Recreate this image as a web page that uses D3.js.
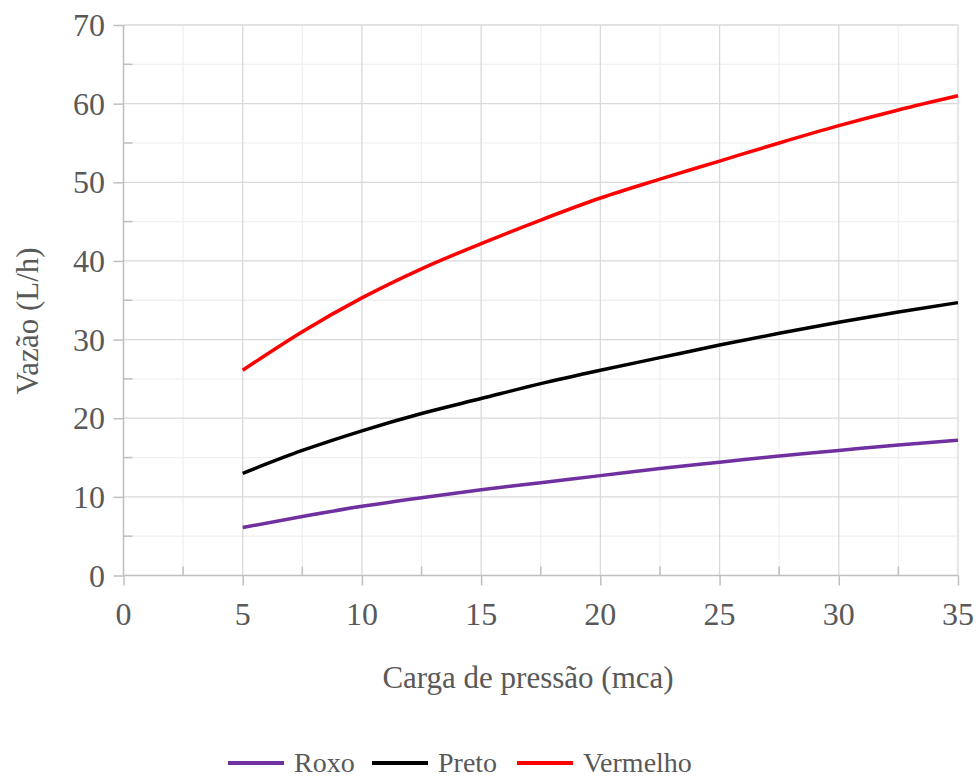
<!DOCTYPE html>
<html><head><meta charset="utf-8">
<script src="https://cdn.jsdelivr.net/npm/d3@7"></script>
<style>body{margin:0;background:#fff}text{font-family:"Liberation Serif","Times New Roman",serif;fill:#595959}</style>
</head><body><svg id="c" width="976" height="778"></svg>
<script>
const pressure = [5, 7.5, 10, 12.5, 15, 17.5, 20, 22.5, 25, 27.5, 30, 32.5, 35];
const roxo     = [6.1, 7.5, 8.8, 9.9, 10.9, 11.8, 12.7, 13.6, 14.4, 15.2, 15.9, 16.6, 17.2];
const preto    = [13.0, 15.9, 18.4, 20.6, 22.5, 24.4, 26.1, 27.7, 29.3, 30.8, 32.2, 33.5, 34.7];
const vermelho = [26.1, 31.0, 35.3, 39.0, 42.2, 45.2, 48.0, 50.4, 52.7, 55.0, 57.2, 59.2, 61.0];
const seriesNames = ["Roxo", "Preto", "Vermelho"];
const seriesColors = ["#7030a0", "#000000", "#ff0000"];
const xTicks = [0, 5, 10, 15, 20, 25, 30, 35];
const yTicks = [0, 10, 20, 30, 40, 50, 60, 70];
const xLabel = "Carga de pressão (mca)";
const yLabel = "Vazão (L/h)";

const svg = d3.select("#c");
const L = 123.5, R = 958, T = 25, B = 575.5;
const x = d3.scaleLinear().domain([0, 35]).range([L, R]);
const y = d3.scaleLinear().domain([0, 70]).range([B, T]);

const g = svg.append("g");
const xMinor = d3.range(2.5, 35, 5);
const yMinor = d3.range(5, 70, 10);
g.selectAll(".xm").data(xMinor).enter().append("line")
  .attr("x1", d => x(d)).attr("x2", d => x(d)).attr("y1", T).attr("y2", B)
  .attr("stroke", "#f0f0f0").attr("stroke-width", 1.3);
g.selectAll(".ym").data(yMinor).enter().append("line")
  .attr("x1", L).attr("x2", R).attr("y1", d => y(d)).attr("y2", d => y(d))
  .attr("stroke", "#f0f0f0").attr("stroke-width", 1.3);
g.selectAll(".xg").data(xTicks.slice(1)).enter().append("line")
  .attr("x1", d => x(d)).attr("x2", d => x(d)).attr("y1", T).attr("y2", B)
  .attr("stroke", "#d9d9d9").attr("stroke-width", 1.3);
g.selectAll(".yg").data(yTicks.slice(1)).enter().append("line")
  .attr("x1", L).attr("x2", R).attr("y1", d => y(d)).attr("y2", d => y(d))
  .attr("stroke", "#d9d9d9").attr("stroke-width", 1.3);

g.selectAll(".xmt").data(xMinor).enter().append("line")
  .attr("x1", d => x(d)).attr("x2", d => x(d)).attr("y1", B - 9).attr("y2", B)
  .attr("stroke", "#bfbfbf").attr("stroke-width", 1.5);
g.selectAll(".ymt").data(yMinor).enter().append("line")
  .attr("x1", L).attr("x2", L + 9).attr("y1", d => y(d)).attr("y2", d => y(d))
  .attr("stroke", "#bfbfbf").attr("stroke-width", 1.5);

const xAxis = d3.axisBottom(x).tickValues(xTicks).tickSize(10).tickFormat("");
const yAxis = d3.axisLeft(y).tickValues(yTicks).tickSize(10).tickFormat("");
const gx = svg.append("g").attr("transform", `translate(0,${B})`).call(xAxis);
const gy = svg.append("g").attr("transform", `translate(${L},0)`).call(yAxis);
[gx, gy].forEach(a => {
  a.select(".domain").attr("stroke", "#bfbfbf").attr("stroke-width", 1.5);
  a.selectAll(".tick line").attr("stroke", "#bfbfbf").attr("stroke-width", 1.5);
});
gx.select(".domain").attr("d", `M${L},0H${R}`);
gy.select(".domain").attr("d", `M0,${B}V${T}`);

svg.append("g").selectAll("text").data(xTicks).enter().append("text")
  .attr("x", d => x(d)).attr("y", 625).attr("text-anchor", "middle")
  .style("font-size", "32px").text(d => d);
svg.append("g").selectAll("text").data(yTicks).enter().append("text")
  .attr("x", 105).attr("y", d => y(d) + 11).attr("text-anchor", "end")
  .style("font-size", "32px").text(d => d);

const line = d3.line().x(d => x(d[0])).y(d => y(d[1])).curve(d3.curveMonotoneX);
[roxo, preto, vermelho].forEach((vals, i) => {
  svg.append("path").datum(pressure.map((p, j) => [p, vals[j]]))
    .attr("d", line).attr("fill", "none").attr("stroke", seriesColors[i]).attr("stroke-width", 3.5);
});

svg.append("text").attr("x", 528).attr("y", 688).attr("text-anchor", "middle")
  .style("font-size", "31px").text(xLabel);
svg.append("text").attr("transform", `translate(38,321) rotate(-90)`).attr("text-anchor", "middle")
  .style("font-size", "31px").text(yLabel);

const legendX = [228, 372, 517];
seriesNames.forEach((n, i) => {
  const lg = svg.append("g").attr("transform", `translate(${legendX[i]},763)`);
  lg.append("line").attr("x1", 0).attr("x2", 56).attr("y1", 0).attr("y2", 0)
    .attr("stroke", seriesColors[i]).attr("stroke-width", 4);
  lg.append("text").attr("x", 66).attr("y", 9).style("font-size", "28px").text(n);
});
</script></body></html>
